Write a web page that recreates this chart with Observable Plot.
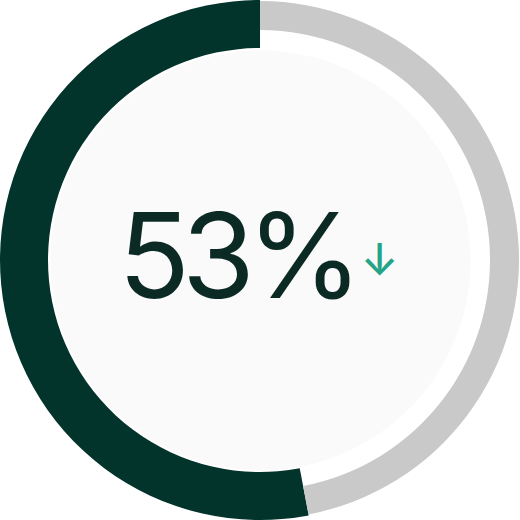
<!DOCTYPE html>
<html>
<head>
<meta charset="utf-8">
<script src="https://cdn.jsdelivr.net/npm/d3@7"></script>
<script src="https://cdn.jsdelivr.net/npm/@observablehq/plot@0.6"></script>
<style>
  html, body { margin: 0; padding: 0; background: #ffffff; }
  #chart { width: 520px; height: 520px; }
  .value-label text, text.value-label { letter-spacing: -8px; }
</style>
</head>
<body>
<div id="chart"></div>
<script>
// Data
const labels = ["Share", "Remaining"];
const values = [53, 47];
const centerLabel = ["53%"];
const trend = ["↓"];

const data = labels.map((label, i) => ({label, value: values[i]}));

// Ring styles per segment
const ringStyle = {
  Share:     {inner: 212, outer: 260, fill: "#02342b"},
  Remaining: {inner: 230, outer: 259, fill: "#c9c9c9"}
};

// Custom ring mark using the plot's own x/y scales for its centre
function ringMark(rows) {
  return (index, scales, values, dimensions) => {
    const cx = scales.x(0), cy = scales.y(0);
    // counter-clockwise from 12 o'clock
    const pie = d3.pie().sort(null).value(d => d.value)
      .startAngle(0).endAngle(-2 * Math.PI);
    const arcs = pie(rows);
    const g = d3.create("svg:g").attr("transform", `translate(${cx},${cy})`);
    g.selectAll("path")
      .data(arcs)
      .join("path")
      .attr("fill", d => ringStyle[d.data.label].fill)
      .attr("d", d => d3.arc()
        .innerRadius(ringStyle[d.data.label].inner)
        .outerRadius(ringStyle[d.data.label].outer)
        .startAngle(d.startAngle)
        .endAngle(d.endAngle)());
    return g.node();
  };
}

const chart = Plot.plot({
  width: 520,
  height: 520,
  margin: 0,
  x: {domain: [-1, 1], axis: null},
  y: {domain: [-1, 1], axis: null},
  style: {background: "transparent", overflow: "visible"},
  marks: [
    Plot.dot([0], {x: () => 0, y: () => 0, r: 210, fill: "#fafafa", stroke: "none"}),
    ringMark(data),
    Plot.text(centerLabel, {
      x: () => 0, y: () => 0, text: d => d,
      fontSize: 118, fontFamily: "Inter", fill: "#0c2a24",
      dx: -24, dy: 0, textAnchor: "middle", lineAnchor: "middle"
    }),
    Plot.text(trend, {
      x: () => 0, y: () => 0, text: d => d,
      fontSize: 44, fontFamily: "Inter", fill: "#26a487", fontWeight: 500,
      dx: 119, dy: 0, textAnchor: "middle", lineAnchor: "middle"
    })
  ]
});
// tighten tracking of the big value label (first text mark)
const textGroups = chart.querySelectorAll('g[aria-label="text"]');
if (textGroups.length) textGroups[0].classList.add("value-label");
document.getElementById("chart").appendChild(chart);
</script>
</body>
</html>
